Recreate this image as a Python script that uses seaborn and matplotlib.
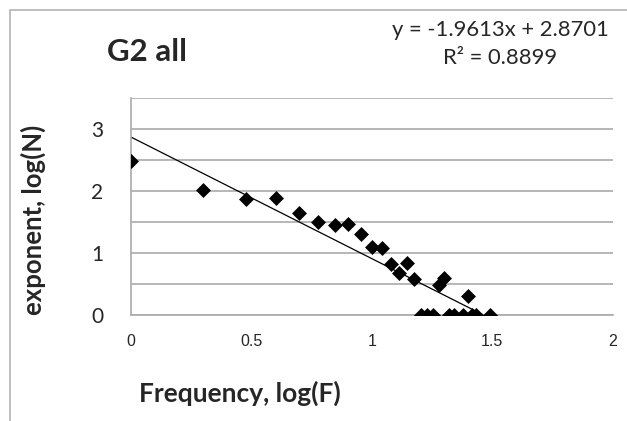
import matplotlib
matplotlib.use("Agg")
import matplotlib.pyplot as plt
import seaborn as sns
import numpy as np
import pandas as pd
from matplotlib.patches import Rectangle

# valores (log da frequência x log do número)
log_f = [0.0, 0.301, 0.477, 0.602, 0.699, 0.778, 0.845, 0.903, 0.954, 1.0,
         1.041, 1.079, 1.114, 1.146, 1.176, 1.204, 1.230, 1.255, 1.279, 1.301,
         1.322, 1.342, 1.380, 1.398, 1.415, 1.431, 1.49]
log_n = [2.49, 2.02, 1.87, 1.89, 1.64, 1.50, 1.45, 1.46, 1.31, 1.10,
         1.08, 0.83, 0.68, 0.84, 0.58, 0.0, 0.0, 0.0, 0.48, 0.60,
         0.0, 0.0, 0.0, 0.30, 0.0, 0.0, 0.0]

# linha de tendência (do próprio gráfico)
slope = -1.9613
intercept = 2.8701
r2 = 0.8899

y_ticks = [0, 1, 2, 3]
x_ticks = [0, 0.5, 1, 1.5, 2]
x_tick_labels = ["0", "0.5", "1", "1.5", "2"]

df = pd.DataFrame({"logF": log_f, "logN": log_n})

sns.set_style("white")
fonte = ["Lato", "DejaVu Sans"]
plt.rcParams["font.family"] = fonte

fig = plt.figure(figsize=(6.27, 4.21), dpi=100)
ax = fig.add_axes([131 / 627, 1 - 315 / 421, (612.7 - 131) / 627, (315 - 98) / 421])

# borda da área do gráfico
fig.patches.append(Rectangle((10 / 627, -0.2), 1.2, 1 - 10 / 421 + 0.2,
                             transform=fig.transFigure, fill=False,
                             edgecolor="#b4b4b4", linewidth=1.2))

# linhas de grade a cada 0.5
ax.set_yticks(y_ticks)
ax.set_yticks(np.arange(0, 3.51, 0.5), minor=True)
ax.grid(True, which="both", axis="y", color="#aaaaaa", linewidth=1.2)
ax.grid(False, axis="x")
ax.set_axisbelow(True)

xs = np.array([0, max(log_f)])
ax.plot(xs, slope * xs + intercept, color="black", linewidth=0.9, zorder=2)

sns.scatterplot(data=df, x="logF", y="logN", marker="D", color="black",
                s=58, edgecolor="black", linewidth=0, ax=ax, zorder=3)

ax.set_xlim(0, 2)
ax.set_ylim(0, 3.5)
ax.set_xticks(x_ticks)
ax.set_xticklabels(x_tick_labels, fontfamily="Liberation Sans", fontsize=11.5)
ax.set_yticklabels([str(t) for t in y_ticks], fontsize=15)
ax.tick_params(axis="x", length=0, pad=14)
ax.tick_params(axis="y", which="both", length=0, pad=20)

for lado in ["top", "right"]:
    ax.spines[lado].set_visible(False)
for lado in ["left", "bottom"]:
    ax.spines[lado].set_color("#aaaaaa")
    ax.spines[lado].set_linewidth(1.2)

ax.set_xlabel("")
ax.set_ylabel("")
fig.text(240 / 627, 1 - 393 / 421, "Frequency, log(F)", fontsize=19,
         fontweight="bold", ha="center", va="center")
fig.text(33 / 627, 1 - 220 / 421, "exponent, log(N)", fontsize=18.5,
         fontweight="bold", ha="center", va="center", rotation=90)
fig.text(147 / 627, 1 - 52 / 421, "G2 all", fontsize=22.5,
         fontweight="bold", ha="center", va="center")
fig.text(500 / 627, 1 - 30 / 421, f"y = {slope}x + {intercept}", fontsize=15.8,
         ha="center", va="center")
fig.text(500 / 627, 1 - 58 / 421, f"R² = {r2}", fontsize=15.8,
         ha="center", va="center")

fig.savefig("out.png", dpi=100)
